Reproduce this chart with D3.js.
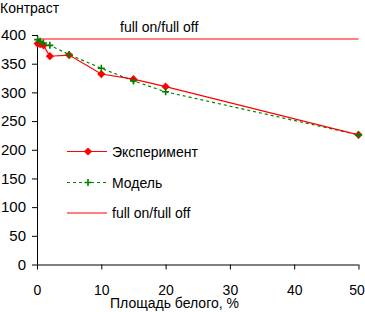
<!DOCTYPE html>
<html>
<head>
<meta charset="utf-8">
<script src="https://cdn.jsdelivr.net/npm/d3@7"></script>
<style>
  body { margin: 0; background: #fff; }
  svg { display: block; font-family: "Liberation Sans", Arial, sans-serif; }
</style>
</head>
<body>
<svg id="chart" width="365" height="312"></svg>
<script>
// данные
const expX = [0.1, 0.5, 1, 2, 5, 10, 15, 20, 50];
const expY = [385, 384, 382, 363, 365, 332, 323, 310, 226];
const modelX = [0.1, 0.5, 1, 2, 5, 10, 15, 20, 50];
const modelY = [392, 389, 386, 382, 366, 342, 320, 301, 226];
const fullOnOff = 393;
const xTicks = [0, 10, 20, 30, 40, 50];
const yTicks = [0, 50, 100, 150, 200, 250, 300, 350, 400];
const legendNames = ["Эксперимент", "Модель", "full on/full off"];

const svg = d3.select("#chart");
const x = d3.scaleLinear().domain([0, 50]).range([37, 358.5]);
const y = d3.scaleLinear().domain([0, 400]).range([264.5, 35]);

// оси
const axisX = d3.axisBottom(x).tickValues(xTicks).tickSize(5).tickPadding(15);
const axisY = d3.axisLeft(y).tickValues(yTicks).tickSize(5).tickPadding(6);

const gx = svg.append("g").attr("transform", "translate(0," + y(0) + ")").call(axisX);
const gy = svg.append("g").attr("transform", "translate(" + x(0) + ",0)").call(axisY);

[gx, gy].forEach(g => {
  g.select(".domain").attr("stroke", "#000");
  g.selectAll(".tick line").attr("stroke", "#000");
  g.selectAll(".tick text").attr("fill", "#000")
    .style("font-family", "'Liberation Sans', Arial, sans-serif");
});
gx.selectAll(".tick text").style("font-size", "14px").attr("dy", "0.78em");
gx.selectAll(".tick text").filter(d => d === 50).attr("dx", "-2");
gy.selectAll(".tick text").style("font-size", "15px");
gx.select(".domain").attr("d", "M" + x(0) + ",0.5H" + x(50));
gy.select(".domain").attr("d", "M0.5," + y(400) + "V" + y(0));

svg.append("text").attr("x", 0).attr("y", 13).style("font-size", "14px").text("Контраст");
svg.append("text").attr("x", 110).attr("y", 308).style("font-size", "14px").text("Площадь белого, %");

// линия full on/full off
svg.append("line")
  .attr("x1", x(0)).attr("x2", x(50))
  .attr("y1", y(fullOnOff)).attr("y2", y(fullOnOff))
  .attr("stroke", "#f00").attr("stroke-width", 1.2);
svg.append("text").attr("x", 120).attr("y", 32).style("font-size", "14px").text("full on/full off");

const line = d3.line().x(d => x(d[0])).y(d => y(d[1]));
const modelPts = d3.zip(modelX, modelY);
const expPts = d3.zip(expX, expY);

// модель
svg.append("path").datum(modelPts).attr("d", line)
  .attr("fill", "none").attr("stroke", "#008000").attr("stroke-width", 1.2)
  .attr("stroke-dasharray", "3,3");

// эксперимент
svg.append("path").datum(expPts).attr("d", line)
  .attr("fill", "none").attr("stroke", "#f00").attr("stroke-width", 1.2);

const diamond = d3.symbol().type(d3.symbolSquare).size(34);

svg.selectAll(".exp").data(expPts).join("path")
  .attr("d", diamond)
  .attr("transform", d => "translate(" + x(d[0]) + "," + y(d[1]) + ") rotate(45)")
  .attr("fill", "#f00");

const drawPlus = (g, cx, cy) => {
  g.append("path")
    .attr("d", "M" + (cx - 3.5) + "," + cy + "H" + (cx + 3.5) + "M" + cx + "," + (cy - 3.5) + "V" + (cy + 3.5))
    .attr("stroke", "#008000").attr("stroke-width", 1.6).attr("fill", "none");
};
modelPts.forEach(d => drawPlus(svg, x(d[0]), y(d[1])));

// легенда
const legY = [151.5, 182.5, 213];
const lg = svg.append("g");
lg.append("line").attr("x1", 67).attr("x2", 107).attr("y1", legY[0]).attr("y2", legY[0])
  .attr("stroke", "#f00").attr("stroke-width", 1.2);
lg.append("path").attr("d", diamond)
  .attr("transform", "translate(88," + legY[0] + ") rotate(45)").attr("fill", "#f00");
lg.append("line").attr("x1", 67).attr("x2", 107).attr("y1", legY[1]).attr("y2", legY[1])
  .attr("stroke", "#008000").attr("stroke-width", 1.2).attr("stroke-dasharray", "3,3");
drawPlus(lg, 88, legY[1]);
lg.append("line").attr("x1", 67).attr("x2", 107).attr("y1", legY[2]).attr("y2", legY[2])
  .attr("stroke", "#f00").attr("stroke-width", 1.2);
legendNames.forEach((n, i) => {
  lg.append("text").attr("x", 112).attr("y", legY[i] + 5).style("font-size", "14px").text(n);
});
</script>
</body>
</html>
